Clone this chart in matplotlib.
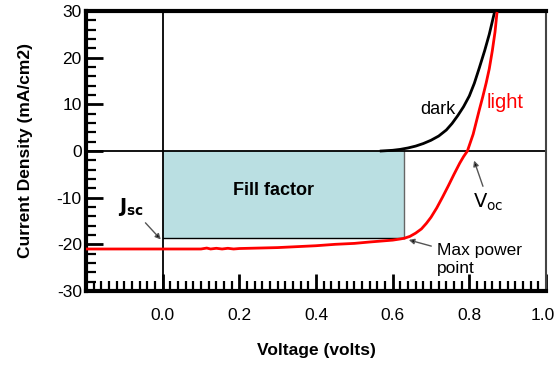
import matplotlib
matplotlib.use("Agg")
import matplotlib.pyplot as plt
import matplotlib.transforms as mtransforms
from matplotlib.ticker import MultipleLocator, FixedLocator
from matplotlib.patches import Rectangle

plt.rcParams['font.family'] = ['Liberation Sans', 'DejaVu Sans']
plt.rcParams['axes.unicode_minus'] = False

# light I-V curve (volts, mA/cm2)
v_light = [-0.2, 0.0, 0.10, 0.115, 0.125, 0.14, 0.155, 0.17, 0.185, 0.2, 0.25, 0.3,
           0.4, 0.45, 0.5, 0.54, 0.6, 0.62, 0.63, 0.645, 0.66, 0.675, 0.688, 0.70,
           0.715, 0.73, 0.745, 0.76, 0.775, 0.785, 0.795, 0.81, 0.826, 0.835,
           0.844, 0.852, 0.86, 0.867, 0.872]
j_light = [-21.0, -21.0, -21.0, -20.8, -21.0, -20.85, -21.0, -20.85, -21.0, -20.9,
           -20.8, -20.7, -20.3, -20.0, -19.8, -19.5, -19.1, -18.85, -18.7, -18.3,
           -17.6, -16.7, -15.5, -14.2, -12.2, -9.9, -7.5, -5.0, -2.6, -1.2, 0.0,
           3.6, 8.8, 11.6, 14.6, 17.6, 21.5, 25.5, 29.5]

# dark I-V curve
v_dark = [0.57, 0.6, 0.62, 0.64, 0.66, 0.68, 0.70, 0.72, 0.74, 0.755, 0.77,
          0.785, 0.80, 0.813, 0.826, 0.84, 0.852, 0.865]
j_dark = [0.0, 0.15, 0.35, 0.65, 1.05, 1.6, 2.3, 3.2, 4.5, 5.9, 7.6,
          9.5, 11.8, 14.5, 17.8, 21.5, 25.0, 29.5]

# max power point / fill factor box
v_mp = 0.63
j_mp = -18.6

xticks = [0.0, 0.2, 0.4, 0.6, 0.8, 1.0]
xticklabels = ['0.0', '0.2', '0.4', '0.6', '0.8', '1.0']

fig = plt.figure(figsize=(5.56, 3.69), dpi=100)
ax = fig.add_axes([0.1547, 0.2114, 0.8273, 0.7588])

ax.add_patch(Rectangle((0, j_mp), v_mp, -j_mp, facecolor='#badfe2',
                       edgecolor='none', zorder=1))
ax.plot([v_mp, v_mp], [j_mp, 0], color='#666666', lw=1, zorder=2)
ax.plot([0, v_mp], [j_mp, j_mp], color='black', lw=1, zorder=2)

ax.axhline(0, color='black', lw=1.3, zorder=2)
ax.axvline(0, color='black', lw=1.3, zorder=2)

ax.plot(v_dark, j_dark, color='black', lw=2, zorder=3)
ax.plot(v_light, j_light, color='red', lw=2, zorder=4)

ax.set_xlim(-0.2, 1.0)
ax.set_ylim(-30, 30)

ax.xaxis.set_major_locator(FixedLocator(xticks))
ax.xaxis.set_minor_locator(MultipleLocator(0.02))
ax.yaxis.set_major_locator(MultipleLocator(10))
ax.yaxis.set_minor_locator(MultipleLocator(2))
ax.set_xticklabels(xticklabels)

ax.tick_params(which='major', direction='in', length=12, width=2,
               labelsize=12.5, top=False, right=False)
ax.tick_params(which='minor', direction='in', length=7, width=1.6,
               top=False, right=False)
ax.tick_params(axis='x', which='major', pad=12)
ax.tick_params(axis='y', which='major', pad=3)

# nudge the last x label so it stays inside the picture
last = ax.get_xticklabels()[-1]
last.set_transform(last.get_transform() +
                   mtransforms.ScaledTranslation(-3 / 100, 0, fig.dpi_scale_trans))

for s in ['left', 'top', 'bottom']:
    ax.spines[s].set_linewidth(3)
ax.spines['right'].set_linewidth(1.5)
ax.spines['right'].set_color('#444444')

ax.set_xlabel('Voltage (volts)', fontsize=12.5, fontweight='bold', labelpad=15)
ax.set_ylabel('Current Density (mA/cm2)', fontsize=12.5, fontweight='bold',
              labelpad=17)

ax.text(0.717, 8.8, 'dark', fontsize=13, ha='center', va='center')
ax.text(0.894, 10.3, 'light', fontsize=14.5, color='red', ha='center', va='center')
ax.text(0.29, -8.4, 'Fill factor', fontsize=13, fontweight='bold',
        ha='center', va='center')

arrow = dict(arrowstyle='-|>', ec='#555555', fc='black', lw=1, mutation_scale=8)
ax.annotate(r'$\mathbf{J}_{\mathbf{sc}}$', xy=(0, -19.4), xytext=(-0.083, -12),
            fontsize=14, ha='center', va='center', arrowprops=arrow)
ax.annotate(r'$\mathrm{V}_{\mathrm{oc}}$', xy=(0.81, -1.5), xytext=(0.85, -11),
            fontsize=14, ha='center', va='center', arrowprops=arrow)
ax.annotate('Max power\npoint', xy=(0.635, -18.9), xytext=(0.715, -23.2),
            fontsize=12.5, ha='left', va='center', linespacing=1.25,
            arrowprops=arrow)

fig.savefig('out.png', dpi=100)
